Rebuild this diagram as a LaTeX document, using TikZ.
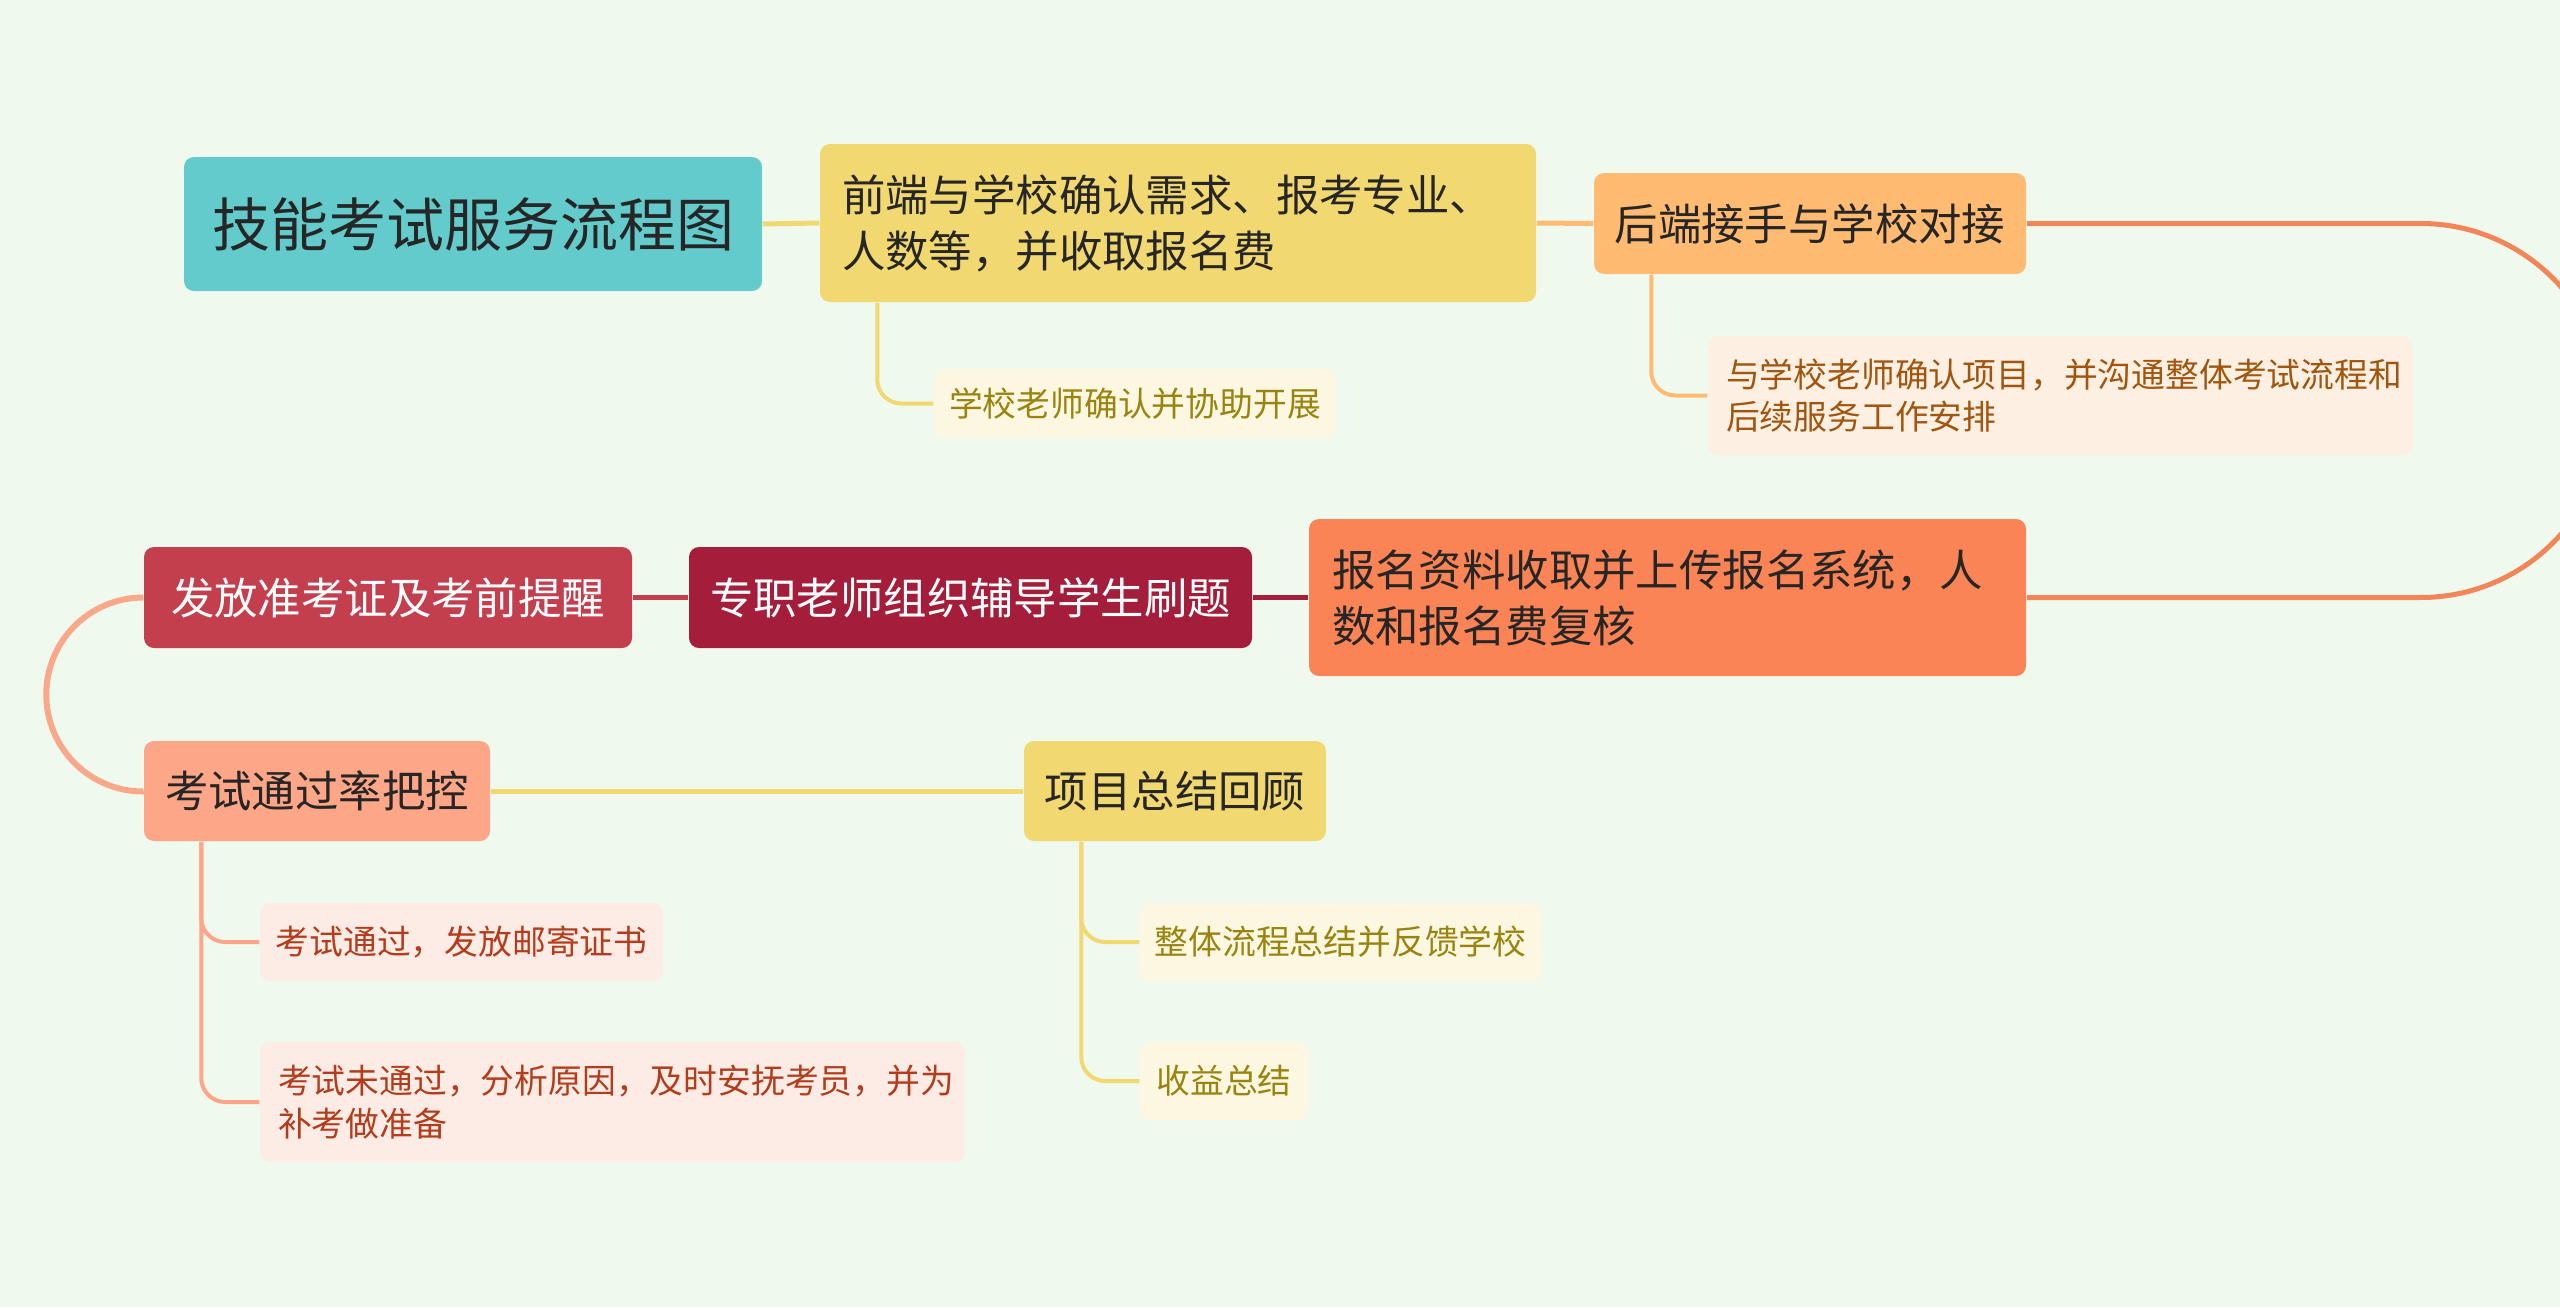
\documentclass[tikz,border=0pt]{standalone}
\usepackage{fontspec}
\setmainfont{Noto Sans CJK SC}

\definecolor{bgmint}{HTML}{F0F9EE}
\definecolor{titleteal}{HTML}{63CBCC}
\definecolor{topicyellow}{HTML}{F1D870}
\definecolor{topicorange}{HTML}{FEBB71}
\definecolor{topiccoral}{HTML}{FA8455}
\definecolor{curvecoral}{HTML}{F28659}
\definecolor{topiccrimson}{HTML}{A41D3A}
\definecolor{topicred}{HTML}{C43F4E}
\definecolor{topicsalmon}{HTML}{FDA688}
\definecolor{curvesalmon}{HTML}{F9A88A}
\definecolor{subyellow}{HTML}{FCF7E1}
\definecolor{suborange}{HTML}{FDF0E3}
\definecolor{subsalmon}{HTML}{FDECE5}
\definecolor{inkdark}{HTML}{262626}
\definecolor{inkolive}{HTML}{9A8410}
\definecolor{inkbrown}{HTML}{A0560F}
\definecolor{inkrust}{HTML}{B23C1C}

\tikzset{every picture/.style={line width=0.75pt}}
\tikzset{
  topic/.style={rounded corners=5pt, inner sep=0pt, text=inkdark,
    font=\fontsize{21.7}{28}\selectfont},
  leaf/.style={rounded corners=5pt, inner sep=0pt,
    font=\fontsize{16.9}{21.2}\selectfont},
  branch/.style={line width=2.5pt},
  twig/.style={line width=2pt, rounded corners=12pt},
}

\begin{document}
\begin{tikzpicture}[x=0.5pt,y=0.5pt,yscale=-1,xscale=1]
\fill[bgmint] (0,0) rectangle (2560,1307);
\useasboundingbox (0,0) rectangle (2560,1307);

% Text Node
\node[topic, fill=titleteal, minimum width=289pt, minimum height=67pt,
  font=\fontsize{29}{34}\selectfont] (title) at (473,224) {技能考试服务流程图};
% Text Node
\node[topic, fill=topicyellow, align=left, text width=336pt, inner xsep=11pt,
  minimum height=79pt] (front) at (1178,223) {前端与学校确认需求、报考专业、\\人数等，并收取报名费};
% Text Node
\node[topic, fill=topicorange, minimum width=216pt, minimum height=50.5pt] (back) at (1810,223.5) {后端接手与学校对接};
% Text Node
\node[topic, fill=topiccoral, align=left, text width=335.5pt, inner xsep=11.5pt,
  minimum height=78.5pt] (upload) at (1667.5,597.5) {报名资料收取并上传报名系统，人\\数和报名费复核};
% Text Node
\node[topic, fill=topiccrimson, text=white, minimum width=281.5pt, minimum height=50.5pt] (tutor) at (970.5,597.5) {专职老师组织辅导学生刷题};
% Text Node
\node[topic, fill=topicred, text=white, minimum width=244pt, minimum height=50.5pt] (ticket) at (388,597.5) {发放准考证及考前提醒};
% Text Node
\node[topic, fill=topicsalmon, minimum width=173pt, minimum height=50pt] (passrate) at (317,791) {考试通过率把控};
% Text Node
\node[topic, fill=topicyellow, minimum width=151pt, minimum height=50pt] (review) at (1175,791) {项目总结回顾};

% Text Node
\node[leaf, fill=subyellow, text=inkolive, minimum width=201pt, minimum height=34.5pt] (assist) at (1135,403.5) {学校老师确认并协助开展};
% Text Node
\node[leaf, fill=suborange, text=inkbrown, align=left, text width=334.5pt, inner xsep=9pt,
  minimum height=59.5pt] (confirm) at (2060.5,395.5) {与学校老师确认项目，并沟通整体考试流程和\\后续服务工作安排};
% Text Node
\node[leaf, fill=subsalmon, text=inkrust, minimum width=201.5pt, minimum height=39pt] (pass) at (461.5,942) {考试通过，发放邮寄证书};
% Text Node
\node[leaf, fill=subsalmon, text=inkrust, align=left, text width=334.5pt, inner xsep=9pt,
  minimum height=60pt] (fail) at (612.5,1102) {考试未通过，分析原因，及时安抚考员，并为\\补考做准备};
% Text Node
\node[leaf, fill=subyellow, text=inkolive, minimum width=200.5pt, minimum height=39pt] (summary) at (1340.5,942) {整体流程总结并反馈学校};
% Text Node
\node[leaf, fill=subyellow, text=inkolive, minimum width=84pt, minimum height=39pt] (income) at (1224,1081) {收益总结};

%Straight Lines
\draw[branch, topicyellow] (title.east) -- (front.west);
\draw[branch, topicorange] (front.east) -- (back.west);
\draw[branch, topiccrimson] (upload.west) -- (tutor.east);
\draw[branch, topicred] (tutor.west) -- (ticket.east);
\draw[branch, topicyellow] (passrate.east) -- (review.west);
%Curve Lines
\draw[branch, curvecoral] (back.east) -- ++(394,0) arc[start angle=-90, end angle=90, radius=187] -- (upload.east);
\draw[line width=3pt, curvesalmon] (ticket.west) arc[start angle=270, end angle=90, radius=97] -- (passrate.west);

%Sub Lines
\draw[twig, topicyellow] ([xshift=29pt]front.south west) |- (assist.west);
\draw[twig, topicorange] ([xshift=29pt]back.south west) |- (confirm.west);
\draw[twig, topicsalmon] ([xshift=29pt]passrate.south west) |- (pass.west);
\draw[twig, topicsalmon] ([xshift=29pt]passrate.south west) |- (fail.west);
\draw[twig, topicyellow] ([xshift=29pt]review.south west) |- (summary.west);
\draw[twig, topicyellow] ([xshift=29pt]review.south west) |- (income.west);

\end{tikzpicture}
\end{document}
